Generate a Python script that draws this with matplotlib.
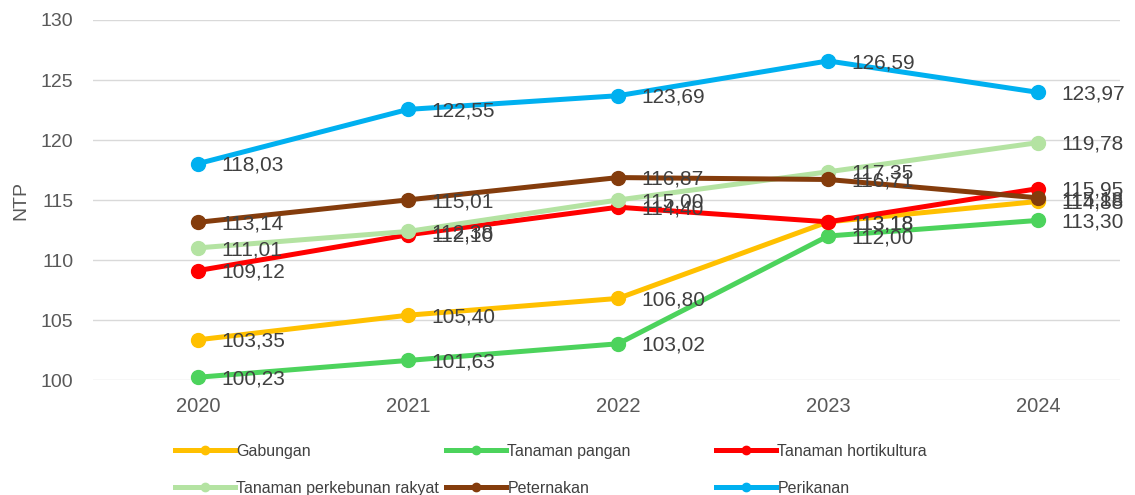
import matplotlib
matplotlib.use("Agg")
import matplotlib.pyplot as plt
from matplotlib.lines import Line2D

plt.rcParams['font.family'] = ['Liberation Sans', 'DejaVu Sans']

years = ["2020", "2021", "2022", "2023", "2024"]

gabungan = [103.35, 105.40, 106.80, 113.18, 114.88]
tanaman_pangan = [100.23, 101.63, 103.02, 112.00, 113.30]
tanaman_hortikultura = [109.12, 112.10, 114.40, 113.18, 115.95]
perkebunan_rakyat = [111.01, 112.38, 115.00, 117.35, 119.78]
peternakan = [113.14, 115.01, 116.87, 116.71, 115.18]
perikanan = [118.03, 122.55, 123.69, 126.59, 123.97]

series_names = ["Gabungan", "Tanaman pangan", "Tanaman hortikultura",
                "Tanaman perkebunan rakyat", "Peternakan", "Perikanan"]
series_values = [gabungan, tanaman_pangan, tanaman_hortikultura,
                 perkebunan_rakyat, peternakan, perikanan]
series_colors = ["#FFC000", "#4CD35C", "#FF0000", "#B4E3A2", "#843C0C", "#00B0F0"]

y_ticks = [100, 105, 110, 115, 120, 125, 130]

fig = plt.figure(figsize=(11.35, 4.95), dpi=100)
ax = fig.add_axes([93 / 1135, 0.2323, 1027 / 1135, 0.7273])

x = list(range(len(years)))
for name, vals, col in zip(series_names, series_values, series_colors):
    ax.plot(x, vals, color=col, lw=3.6, marker="o", ms=10,
            solid_capstyle="round", zorder=3, label=name, clip_on=False)

# value labels to the right of each point
for vals in series_values:
    for xi, v in zip(x, vals):
        ax.annotate(f"{v:.2f}".replace(".", ","), (xi, v), xytext=(17, -1.2),
                    textcoords="offset points", ha="left", va="center",
                    fontsize=15, color="#404040", zorder=5)

ax.set_xlim(-0.5, 4.39)
ax.set_ylim(100, 130)
ax.set_yticks(y_ticks)
ax.set_xticks(x)
ax.set_xticklabels(years)
ax.tick_params(axis="both", length=0, labelcolor="#595959")
ax.tick_params(axis="x", pad=12, labelsize=14.5)
ax.tick_params(axis="y", pad=14, labelsize=14)
ax.grid(axis="y", color="#D9D9D9", lw=1)
ax.set_axisbelow(True)
for s in ax.spines.values():
    s.set_visible(False)
ax.set_ylabel("NTP", fontsize=14, color="#595959", labelpad=8)

# legend laid out as three columns of two entries
col_x = [175, 446, 716]
for c in range(3):
    hs = []
    for r in range(2):
        i = r * 3 + c
        hs.append(Line2D([], [], color=series_colors[i], lw=3.6, marker="o", ms=6,
                         label=series_names[i]))
    fig.legend(handles=hs, loc="upper left",
               bbox_to_anchor=(col_x[c] / 1135, 1 - 444 / 495),
               frameon=False, fontsize=11.5, handlelength=3.75,
               handletextpad=0.1, labelspacing=1.35, borderpad=0,
               borderaxespad=0, labelcolor="#404040")

fig.savefig("out.png", dpi=100)
